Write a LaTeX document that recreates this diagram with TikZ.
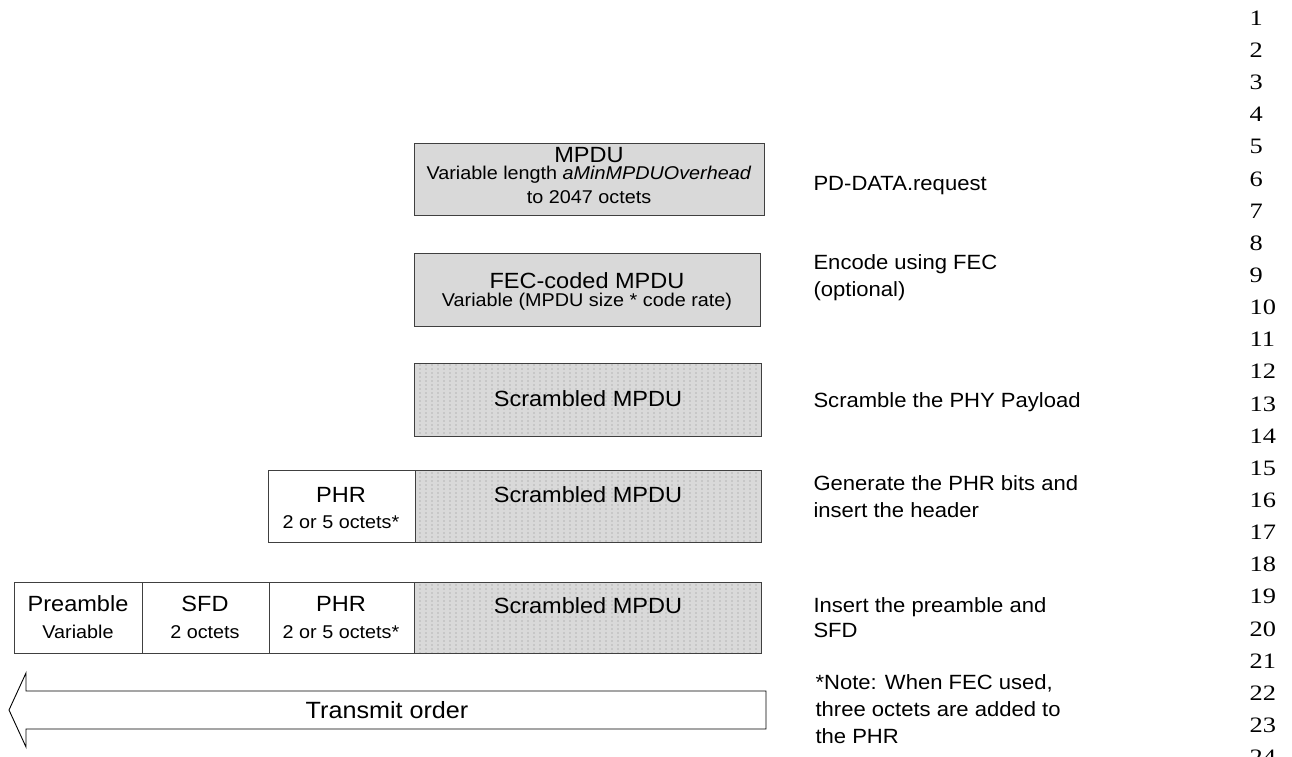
\documentclass[tikz,border=0pt]{standalone}
\usepackage{fontspec}
\setmainfont{Liberation Sans}[FakeStretch=1.07]
\newfontfamily\numfont{Liberation Serif}[FakeStretch=1.2]
\usetikzlibrary{patterns,positioning}

\pgfdeclarepatternformonly{scrdots}{\pgfqpoint{-1pt}{-1pt}}{\pgfqpoint{1pt}{1pt}}{\pgfqpoint{6pt}{4pt}}{%
	\pgfpathcircle{\pgfqpoint{0pt}{0pt}}{0.6pt}\pgfusepath{fill}}

\begin{document}
\begin{tikzpicture}[x=1pt,y=-1pt,
		blk/.style={draw=black!75, line width=1.3pt, anchor=north west, inner sep=0pt},
		greybox/.style={blk, fill=black!15},
		scrbox/.style={blk, preaction={fill=black!15}, pattern=scrdots, pattern color=black!45},
		hdrbox/.style={blk, fill=white},
		title/.style={anchor=base, font=\fontsize{22}{26}\selectfont},
		sub/.style={anchor=base, font=\fontsize{18.5}{22}\selectfont},
		lbl/.style={anchor=base west, font=\fontsize{20.6}{27}\selectfont},
		num/.style={anchor=base west, font=\numfont\fontsize{22}{26}\selectfont}]
		\useasboundingbox (0,0) rectangle (1292,757);
		% line numbers
		\foreach \n in {1,...,24}
			\node[num] (ln\n) at (1246,{25.4+(\n-1)*32.14}) {\n};
		% MPDU
		\node[greybox, minimum width=350, minimum height=72] (mpdu) at (414,143) {};
		\node[title] (mpdut) at (589,162) {MPDU};
		\node[sub] (mpdus) at (589,179) {Variable length \textit{aMinMPDUOverhead}};
		\node[sub] (mpdur) at (589,203) {to 2047 octets};
		\node[lbl] (l1) at (810,190) {PD-DATA.request};
		% FEC
		\node[greybox, minimum width=346, minimum height=73] (fec) at (414,253) {};
		\node[title] (fect) at (587,288) {FEC-coded MPDU};
		\node[sub] (fecs) at (587,306) {Variable (MPDU size * code rate)};
		\node[lbl] (l2a) at (810,269) {Encode using FEC};
		\node[lbl] (l2b) at (810,296) {(optional)};
		% scrambled
		\node[scrbox, minimum width=347, minimum height=73] (scr1) at (414,363) {};
		\node[title] (scr1t) at (588,406) {Scrambled MPDU};
		\node[lbl] (l3) at (810,407) {Scramble the PHY Payload};
		% PHR added
		\node[hdrbox, minimum width=147, minimum height=72] (phr2) at (268,470) {};
		\node[scrbox, minimum width=346, minimum height=72] (scr2) at (415,470) {};
		\node[title] (phr2t) at (341,502) {PHR};
		\node[sub] (phr2s) at (341,528) {2 or 5 octets*};
		\node[title] (scr2t) at (588,502) {Scrambled MPDU};
		\node[lbl] (l4a) at (810,490) {Generate the PHR bits and};
		\node[lbl] (l4b) at (810,517) {insert the header};
		% preamble and SFD added
		\node[hdrbox, minimum width=128, minimum height=71] (pre) at (14,582) {};
		\node[hdrbox, minimum width=127, minimum height=71] (sfd) at (142,582) {};
		\node[hdrbox, minimum width=145, minimum height=71] (phr3) at (269,582) {};
		\node[scrbox, minimum width=347, minimum height=71] (scr3) at (414,582) {};
		\node[title] (pret) at (78,611) {Preamble};
		\node[sub] (pres) at (78,638) {Variable};
		\node[title] (sfdt) at (205,611) {SFD};
		\node[sub] (sfds) at (205,638) {2 octets};
		\node[title] (phr3t) at (341,611) {PHR};
		\node[sub] (phr3s) at (341,638) {2 or 5 octets*};
		\node[title] (scr3t) at (588,613) {Scrambled MPDU};
		\node[lbl] (l5a) at (810,612) {Insert the preamble and};
		\node[lbl] (l5b) at (810,637) {SFD};
		% transmit order
		\coordinate (tip) at (9,710);
		\draw[line width=0.9pt] (766,691) -- (26,691) -- (26,673) -- (tip) -- (26,747) -- (26,729) -- (766,729) -- cycle;
		\node[anchor=base, font=\fontsize{23.5}{28}\selectfont] (tx) at (387,718) {Transmit order};
		\node[lbl] (n1) at (812,689) {*Note: When FEC used,};
		\node[lbl] (n2) at (812,716) {three octets are added to};
		\node[lbl] (n3) at (812,743) {the PHR};
	\end{tikzpicture}
\end{document}
